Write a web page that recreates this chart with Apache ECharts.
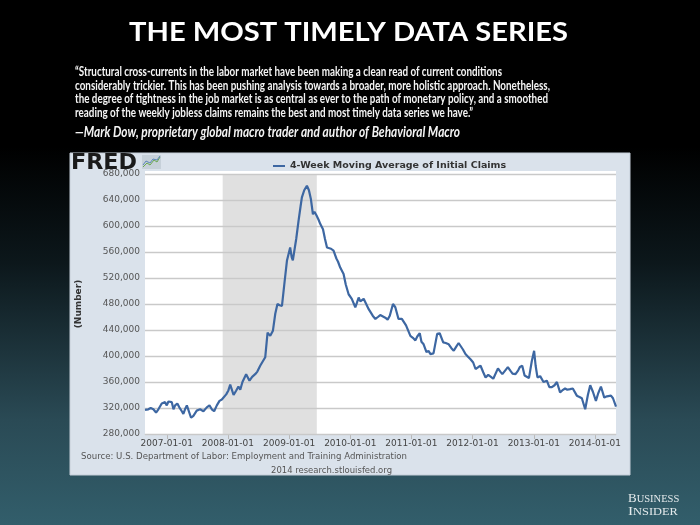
<!DOCTYPE html>
<html>
<head>
<meta charset="utf-8">
<script src="https://cdn.jsdelivr.net/npm/echarts@6/dist/echarts.min.js"></script>
<style>html,body{margin:0;padding:0;background:#000;}#c{width:700px;height:525px;}</style>
</head>
<body>
<div id="c"></div>
<script>
// ---------- DATA ----------
const titleText = 'THE MOST TIMELY DATA SERIES';
const quoteLines = [
  '\u201cStructural cross-currents in the labor market have been making a clean read of current conditions',
  'considerably trickier. This has been pushing analysis towards a broader, more holistic approach. Nonetheless,',
  'the degree of tightness in the job market is as central as ever to the path of monetary policy, and a smoothed',
  'reading of the weekly jobless claims remains the best and most timely data series we have.\u201d'
];
const attribution = '\u2014Mark Dow, proprietary global macro trader and author of Behavioral Macro';
const seriesName = '4-Week Moving Average of Initial Claims';
const yAxisName = '(Number)';
const sourceText = 'Source: U.S. Department of Labor: Employment and Training Administration';
const creditText = '2014 research.stlouisfed.org';
const recession = ['2007-12-01', '2009-06-15'];

const dates = [
 '2006-08-24','2006-09-13','2006-09-27','2006-10-13','2006-10-29','2006-11-12','2006-12-02','2006-12-12','2006-12-22',
 '2007-01-01','2007-01-11','2007-01-21','2007-01-31','2007-02-10','2007-02-20','2007-03-05','2007-03-17','2007-04-01',
 '2007-04-10','2007-04-20','2007-05-01','2007-05-10','2007-05-26','2007-06-09','2007-06-29','2007-07-19','2007-08-08',
 '2007-08-28','2007-09-13','2007-09-27','2007-10-11','2007-10-27','2007-11-12','2007-11-26','2007-12-05','2007-12-22',
 '2008-01-04','2008-01-15','2008-02-04','2008-02-20','2008-03-04','2008-03-15','2008-03-28','2008-04-19','2008-05-09',
 '2008-05-25','2008-06-12','2008-06-25','2008-07-12','2008-07-22','2008-08-11','2008-08-25','2008-09-10','2008-09-26',
 '2008-10-10','2008-10-23','2008-11-05','2008-11-19','2008-12-05','2008-12-19','2009-01-07','2009-01-16','2009-01-23',
 '2009-01-31','2009-02-12','2009-02-26','2009-03-10','2009-03-18','2009-04-01','2009-04-17','2009-04-29','2009-05-11',
 '2009-05-23','2009-06-01','2009-06-12','2009-06-25','2009-07-06','2009-07-22','2009-08-03','2009-08-15','2009-08-25',
 '2009-09-08','2009-09-23','2009-10-10','2009-10-20','2009-11-02','2009-11-22','2009-12-05','2009-12-22','2010-01-10',
 '2010-01-31','2010-02-10','2010-02-20','2010-03-02','2010-03-12','2010-03-22','2010-04-21','2010-05-15','2010-05-31',
 '2010-06-15','2010-06-29','2010-07-29','2010-08-12','2010-08-25','2010-09-13','2010-09-27','2010-10-16','2010-11-05',
 '2010-11-30','2010-12-26','2011-01-10','2011-01-25','2011-02-05','2011-02-20','2011-03-02','2011-03-15','2011-04-01',
 '2011-04-13','2011-04-25','2011-05-13','2011-06-04','2011-06-19','2011-07-10','2011-07-25','2011-08-12','2011-08-28',
 '2011-09-11','2011-09-25','2011-10-10','2011-10-21','2011-11-05','2011-11-20','2011-12-05','2011-12-20','2012-01-05',
 '2012-01-19','2012-02-05','2012-02-18','2012-03-05','2012-03-19','2012-04-04','2012-04-20','2012-05-04','2012-06-01',
 '2012-06-15','2012-06-27','2012-07-15','2012-07-30','2012-08-15','2012-08-27','2012-09-14','2012-09-30','2012-10-10',
 '2012-10-24','2012-11-07','2012-11-20','2012-12-03','2012-12-20','2013-01-03','2013-01-12','2013-01-23','2013-02-08',
 '2013-02-28','2013-03-20','2013-04-04','2013-04-19','2013-05-05','2013-05-19','2013-06-07','2013-06-20','2013-07-07',
 '2013-07-20','2013-08-06','2013-08-22','2013-09-15','2013-10-01','2013-10-15','2013-11-04','2013-11-20','2013-12-04',
 '2013-12-20','2014-01-07','2014-01-20','2014-02-06','2014-02-26','2014-03-14','2014-04-07','2014-04-19','2014-05-07'
];
const claims = [
 317000,318000,320000,318000,313000,318000,327000,330000,329000,
 324000,330000,327000,329000,318000,324000,327000,321000,315000,
 311000,318000,324000,321000,305000,308000,316000,318000,315000,
 321000,324000,318000,315000,324000,331000,333000,334000,341000,
 347000,356000,340000,347000,353000,348000,360000,372000,362000,
 368000,372000,376000,385000,383000,398000,436000,431000,439000,
 465000,480000,478000,477000,515000,547000,567000,552000,547000,
 550000,580000,608000,630000,644000,655000,662000,655000,641000,
 618000,622000,617000,610000,603000,595000,580000,567000,568000,
 565000,562000,550000,545000,536000,526000,510000,495000,488000,
 475000,482000,490000,484000,486000,488000,472000,462000,457000,
 460000,463000,459000,456000,462000,480000,475000,457000,457000,
 447000,431000,428000,424000,430000,435000,422000,418000,406000,
 408000,403000,404000,434000,435000,421000,420000,418000,412000,
 408000,414000,420000,421000,410000,403000,399000,395000,390000,
 380000,383000,385000,375000,367000,371000,368000,365000,381000,
 376000,372000,378000,383000,377000,373000,372000,378000,383000,
 385000,370000,368000,366000,392000,408000,385000,367000,369000,
 360000,362000,352000,352000,355000,360000,344000,347000,350000,
 348000,349000,350000,339000,337000,335000,318000,340000,355000,
 345000,331000,342000,353000,336000,338000,339000,335000,322000
];
const yTicks = {min: 280000, max: 680000, step: 40000};
const xRange = ['2006-08-24', '2014-05-07'];

// ---------- HELPERS ----------
const mctx = document.createElement('canvas').getContext('2d');
function fitText(text, x, y, font, width, color, align) {
  mctx.font = font;
  const w = mctx.measureText(text).width;
  return {
    type: 'text', x: x, y: y, scaleX: width / w, z: 10,
    style: {text: text, font: font, fill: color, textAlign: align || 'left', textVerticalAlign: 'middle'}
  };
}

const chart = echarts.init(document.getElementById('c'), null, {renderer: 'canvas'});
const W = 700, H = 525;

const graphics = [
  {type: 'rect', z: -100, shape: {x: 0, y: 0, width: W, height: H},
   style: {fill: new echarts.graphic.LinearGradient(0, 0, 0, 1, [
     {offset: 0, color: '#000000'}, {offset: 0.28, color: '#000000'},
     {offset: 0.5, color: '#0c171b'}, {offset: 0.8, color: '#2a4a55'}, {offset: 1, color: '#325e6b'}])}},
  {type: 'rect', z: -90, shape: {x: 70, y: 153, width: 560, height: 322}, style: {fill: '#dae2eb', stroke: '#c5ced8', lineWidth: 1}},
  {type: 'rect', z: -80, shape: {x: 145, y: 171, width: 471, height: 264}, style: {fill: '#ffffff'}},
  fitText(titleText, 348.5, 32, 'bold 27px Lato', 439, '#ffffff', 'center'),
  fitText(quoteLines[0], 75, 71.7, 'bold 12.5px Lato', 427, '#f4f4f4'),
  fitText(quoteLines[1], 75, 85.5, 'bold 12.5px Lato', 475, '#f4f4f4'),
  fitText(quoteLines[2], 75, 99, 'bold 12.5px Lato', 473, '#f4f4f4'),
  fitText(quoteLines[3], 75, 112.5, 'bold 12.5px Lato', 398, '#f4f4f4'),
  fitText(attribution, 75, 132, 'italic bold 14.5px Lato', 385, '#f4f4f4'),
  fitText('FRED', 71, 163.5, 'bold 22px "DejaVu Sans"', 66, '#1a1a1a'),
  {type: 'rect', z: 10, shape: {x: 142, y: 155, width: 19, height: 14}, style: {fill: '#c6d0d9'}},
  {type: 'polyline', z: 11, shape: {points: [[143,167],[147,163],[150,165],[154,160],[157,162],[160,157]]}, style: {stroke: '#6aa84f', lineWidth: 1, fill: null}},
  {type: 'polyline', z: 11, shape: {points: [[143,165],[146,161],[150,163],[153,159],[157,160],[160,156]]}, style: {stroke: '#5b86b8', lineWidth: 1, fill: null}},
  fitText(sourceText, 81, 457, '9px "DejaVu Sans"', 326, '#555555'),
  fitText(creditText, 331.5, 470.5, '9px "DejaVu Sans"', 121, '#555555', 'center'),
  {type: 'text', x: 628, y: 499, z: 10, style: {text: '{a|B}{b|USINESS}', fill: '#e4eaec', textVerticalAlign: 'middle',
     rich: {a: {fontSize: 13, fontFamily: 'Liberation Serif', fill: '#e4eaec'}, b: {fontSize: 10.5, fontFamily: 'Liberation Serif', fill: '#e4eaec'}}}},
  {type: 'text', x: 628, y: 512, z: 10, scaleX: 1.18, style: {text: '{a|I}{b|NSIDER}', fill: '#e4eaec', textVerticalAlign: 'middle',
     rich: {a: {fontSize: 13, fontFamily: 'Liberation Serif', fill: '#e4eaec'}, b: {fontSize: 10.5, fontFamily: 'Liberation Serif', fill: '#e4eaec'}}}}
];

const option = {
  animation: false,
  graphic: {elements: graphics},
  grid: {left: 145, right: 84, top: 174, bottom: 91, containLabel: false},
  legend: {
    data: [seriesName], left: 268, top: 156, icon: 'rect', itemWidth: 12, itemHeight: 2, itemGap: 6,
    textStyle: {fontFamily: 'DejaVu Sans', fontWeight: 'bold', fontSize: 9.5, color: '#333333'}
  },
  xAxis: {
    type: 'time', min: xRange[0], max: xRange[1],
    minInterval: 365 * 864e5, maxInterval: 366 * 864e5,
    splitLine: {show: false},
    axisLine: {show: true, lineStyle: {color: '#d0d0d0'}},
    axisTick: {show: true, length: 5, lineStyle: {color: '#b8b8b8'}},
    axisLabel: {
      formatter: function (v) { return echarts.time.format(v, '{yyyy}-{MM}-{dd}', false); },
      color: '#444444', fontFamily: 'DejaVu Sans', fontSize: 9, margin: 5, hideOverlap: false
    }
  },
  yAxis: {
    type: 'value', min: yTicks.min, max: yTicks.max, interval: yTicks.step, z: 2,
    name: yAxisName, nameLocation: 'middle', nameRotate: 90, nameGap: 62,
    nameTextStyle: {fontFamily: 'DejaVu Sans', fontWeight: 'bold', fontSize: 9, color: '#333333'},
    axisLine: {show: false}, axisTick: {show: false},
    splitLine: {lineStyle: {color: '#c9c9c9', width: 1.3}},
    axisLabel: {
      formatter: function (v) { return v.toLocaleString('en-US'); },
      color: '#555555', fontFamily: 'DejaVu Sans', fontSize: 9, margin: 5
    }
  },
  series: [
    {
      type: 'line', name: 'recession', z: 1, data: [], silent: true,
      markArea: {silent: true, itemStyle: {color: '#e0e0e0'}, data: [[{xAxis: recession[0]}, {xAxis: recession[1]}]]}
    },
    {
      type: 'line', name: seriesName, z: 3, showSymbol: false, symbol: 'none',
      color: '#3d67a2', lineStyle: {width: 2.2, color: '#3d67a2'},
      data: dates.map(function (d, i) { return [d, claims[i]]; })
    }
  ]
};
chart.setOption(option);
</script>
</body>
</html>
